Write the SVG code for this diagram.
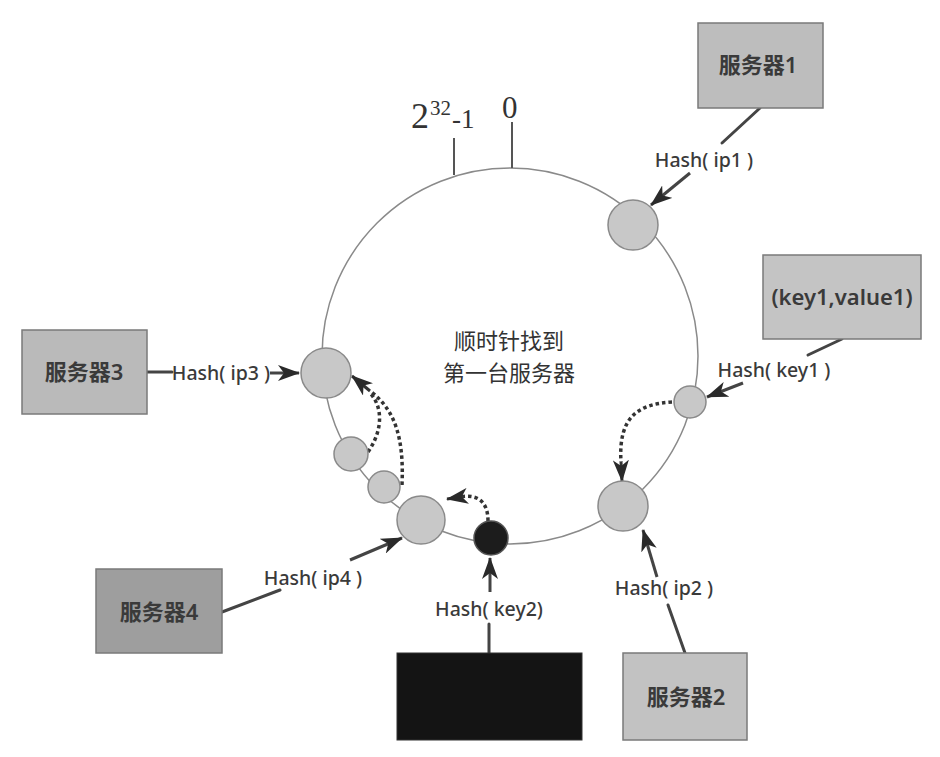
<svg xmlns="http://www.w3.org/2000/svg" width="940" height="757" viewBox="0 0 940 757">
<style>
.box{stroke:#7a7a7a;stroke-width:1.5}
.btxt{font-family:"Noto Sans","Noto Sans CJK SC",sans-serif;font-size:22px;font-weight:600;fill:#3a3a3a;text-anchor:middle}
.lbl{font-family:"Noto Sans",sans-serif;font-size:19.5px;font-weight:500;fill:#3a3a3a;text-anchor:middle}
.ctr{font-family:"Noto Sans CJK SC",sans-serif;font-size:22px;fill:#333;text-anchor:middle}
.num{font-family:"Liberation Serif",serif;fill:#333}
.node{fill:#c8c8c8;stroke:#8a8a8a;stroke-width:1.5}
.ln{stroke:#444;stroke-width:3;fill:none;stroke-linecap:round}
.arr{stroke:#444;stroke-width:3;fill:none;marker-end:url(#ah)}
.dot{stroke:#333;stroke-width:3.5;fill:none;stroke-dasharray:3.5 3}
.tick{stroke:#555;stroke-width:2}
</style>
<defs>
<marker id="ah" markerUnits="userSpaceOnUse" markerWidth="22" markerHeight="16" viewBox="0 0 22 16" refX="21" refY="8" orient="auto">
<path d="M0,0 L22,8 L0,16 L6,8 z" fill="#2a2a2a"/>
</marker>
</defs>
<rect width="940" height="757" fill="#fff"/>
<g id="ring">
<circle cx="510" cy="356" r="188" fill="none" stroke="#8a8a8a" stroke-width="1.5"/>
<line class="tick" x1="454" y1="138" x2="454" y2="175"/>
<line class="tick" x1="512" y1="122" x2="512" y2="168"/>
<text class="num" x="411" y="128" font-size="36">2<tspan font-size="21" dy="-13" dx="1">32</tspan><tspan font-size="27" dy="13" dx="1">-1</tspan></text>
<text class="num" x="502" y="118" font-size="31">0</text>
<text class="ctr" x="509" y="349">顺时针找到</text>
<text class="ctr" x="509" y="381">第一台服务器</text>
</g>
<g id="connectors">
<line class="ln" x1="760" y1="108" x2="722" y2="143"/>
<line class="arr" x1="690" y1="173" x2="651" y2="205"/>
<line class="ln" x1="842" y1="339" x2="808" y2="355"/>
<line class="arr" x1="743" y1="383" x2="707" y2="397"/>
<line class="ln" x1="685" y1="653" x2="668" y2="605"/>
<line class="arr" x1="657" y1="577" x2="643" y2="530"/>
<line class="ln" x1="147" y1="372" x2="172" y2="372"/>
<line class="arr" x1="270" y1="373" x2="299" y2="373"/>
<line class="ln" x1="222" y1="612" x2="280" y2="590"/>
<line class="arr" x1="350" y1="560" x2="402" y2="538"/>
<line class="ln" x1="489" y1="653" x2="489" y2="624"/>
<line class="arr" x1="490" y1="592" x2="490" y2="558"/>
<path class="dot" d="M672,402 C640,404 618,415 621,462"/>
<path d="M621,462 L622,481" stroke="#333" stroke-width="3" marker-end="url(#ah)"/>
<path class="dot" d="M488,521 C488,500 476,494 460,497"/>
<path d="M460,497 L447,499" stroke="#333" stroke-width="3" marker-end="url(#ah)"/>
<path class="dot" d="M368,452 C382,432 384,408 370,393"/>
<path class="dot" d="M402,485 C404,440 396,410 370,391"/>
<path d="M370,391 L352,376" stroke="#333" stroke-width="3" marker-end="url(#ah)"/>
</g>
<g id="server1">
<rect class="box" x="698" y="23" width="125" height="85" fill="#bdbdbd"/>
<text class="btxt" x="758" y="73">服务器1</text>
<text class="lbl" x="704" y="167">Hash( ip1 )</text>
</g>
<g id="key1">
<rect class="box" x="763" y="255" width="158" height="84" fill="#c4c4c4"/>
<text class="btxt" x="842" y="305" font-size="20">(key1,value1)</text>
<text class="lbl" x="774" y="377">Hash( key1 )</text>
</g>
<g id="server3">
<rect class="box" x="22" y="330" width="125" height="84" fill="#bababa"/>
<text class="btxt" x="84" y="380">服务器3</text>
<text class="lbl" x="221" y="380">Hash( ip3 )</text>
</g>
<g id="server4">
<rect class="box" x="96" y="569" width="126" height="84" fill="#9e9e9e"/>
<text class="btxt" x="159" y="620">服务器4</text>
<text class="lbl" x="313" y="585">Hash( ip4 )</text>
</g>
<g id="server2">
<rect class="box" x="623" y="653" width="124" height="87" fill="#c2c2c2"/>
<text class="btxt" x="686" y="705">服务器2</text>
<text class="lbl" x="664" y="595">Hash( ip2 )</text>
</g>
<g id="key2">
<rect x="397" y="653" width="185" height="87" fill="#141414" stroke="#333" stroke-width="1"/>
<text class="lbl" x="489" y="616">Hash( key2)</text>
</g>
<g id="nodes">
<circle id="n-ip1" class="node" cx="633" cy="225" r="25"/>
<circle id="n-key1" class="node" cx="690" cy="402" r="16"/>
<circle id="n-ip2" class="node" cx="623" cy="506" r="25"/>
<circle id="n-key2" cx="491" cy="538" r="17" fill="#1c1c1c" stroke="#555" stroke-width="1.5"/>
<circle id="n-ip4" class="node" cx="421" cy="520" r="24"/>
<circle id="n-b" class="node" cx="384" cy="487" r="16"/>
<circle id="n-a" class="node" cx="351" cy="454" r="17"/>
<circle id="n-ip3" class="node" cx="326" cy="373" r="25"/>
</g>
</svg>
